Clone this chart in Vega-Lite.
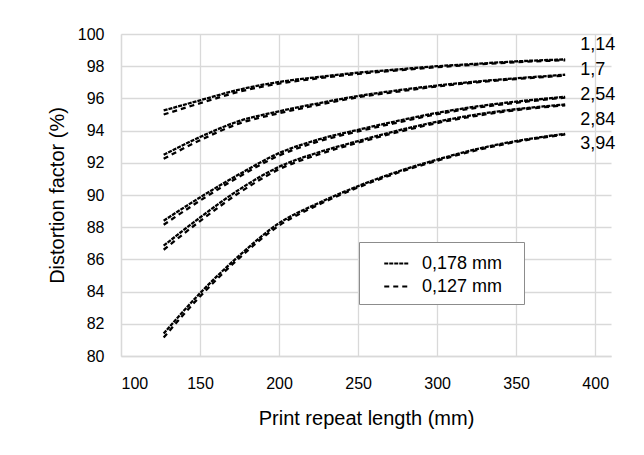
{
  "$schema": "https://vega.github.io/schema/vega-lite/v6.json",
  "autosize": {"type": "none"},
  "padding": {"left": 121, "top": 34, "right": 33, "bottom": 99},
  "width": 490,
  "height": 322,
  "background": "white",
  "config": {
    "view": {"stroke": null},
    "font": "Liberation Sans",
    "axis": {
      "gridColor": "#d9d9d9",
      "gridWidth": 1.3,
      "domainColor": "#d9d9d9",
      "domainWidth": 1.3,
      "ticks": false,
      "labelOverlap": false,
      "labelFont": "Liberation Sans",
      "labelFontSize": 16,
      "labelColor": "#000000",
      "titleFont": "Liberation Sans",
      "titleFontSize": 20,
      "titleFontWeight": "normal",
      "titleColor": "#000000"
    }
  },
  "datasets": {
    "curves": [
      {"r": "1,14", "t": "0,178 mm", "x": 127, "y": 95.25},
      {"r": "1,14", "t": "0,178 mm", "x": 150, "y": 95.88},
      {"r": "1,14", "t": "0,178 mm", "x": 175, "y": 96.55},
      {"r": "1,14", "t": "0,178 mm", "x": 200, "y": 97.02},
      {"r": "1,14", "t": "0,178 mm", "x": 225, "y": 97.33},
      {"r": "1,14", "t": "0,178 mm", "x": 250, "y": 97.6},
      {"r": "1,14", "t": "0,178 mm", "x": 275, "y": 97.8},
      {"r": "1,14", "t": "0,178 mm", "x": 300, "y": 98.0},
      {"r": "1,14", "t": "0,178 mm", "x": 325, "y": 98.15},
      {"r": "1,14", "t": "0,178 mm", "x": 350, "y": 98.3},
      {"r": "1,14", "t": "0,178 mm", "x": 381, "y": 98.42},
      {"r": "1,14", "t": "0,127 mm", "x": 127, "y": 95.0},
      {"r": "1,14", "t": "0,127 mm", "x": 150, "y": 95.7},
      {"r": "1,14", "t": "0,127 mm", "x": 175, "y": 96.42},
      {"r": "1,14", "t": "0,127 mm", "x": 200, "y": 96.92},
      {"r": "1,14", "t": "0,127 mm", "x": 225, "y": 97.25},
      {"r": "1,14", "t": "0,127 mm", "x": 250, "y": 97.52},
      {"r": "1,14", "t": "0,127 mm", "x": 275, "y": 97.74},
      {"r": "1,14", "t": "0,127 mm", "x": 300, "y": 97.94},
      {"r": "1,14", "t": "0,127 mm", "x": 325, "y": 98.1},
      {"r": "1,14", "t": "0,127 mm", "x": 350, "y": 98.25},
      {"r": "1,14", "t": "0,127 mm", "x": 381, "y": 98.37},
      {"r": "1,7", "t": "0,178 mm", "x": 127, "y": 92.5},
      {"r": "1,7", "t": "0,178 mm", "x": 150, "y": 93.6},
      {"r": "1,7", "t": "0,178 mm", "x": 175, "y": 94.6},
      {"r": "1,7", "t": "0,178 mm", "x": 200, "y": 95.2},
      {"r": "1,7", "t": "0,178 mm", "x": 225, "y": 95.7},
      {"r": "1,7", "t": "0,178 mm", "x": 250, "y": 96.15},
      {"r": "1,7", "t": "0,178 mm", "x": 275, "y": 96.5},
      {"r": "1,7", "t": "0,178 mm", "x": 300, "y": 96.8},
      {"r": "1,7", "t": "0,178 mm", "x": 325, "y": 97.05},
      {"r": "1,7", "t": "0,178 mm", "x": 350, "y": 97.25},
      {"r": "1,7", "t": "0,178 mm", "x": 381, "y": 97.47},
      {"r": "1,7", "t": "0,127 mm", "x": 127, "y": 92.25},
      {"r": "1,7", "t": "0,127 mm", "x": 150, "y": 93.4},
      {"r": "1,7", "t": "0,127 mm", "x": 175, "y": 94.45},
      {"r": "1,7", "t": "0,127 mm", "x": 200, "y": 95.08},
      {"r": "1,7", "t": "0,127 mm", "x": 225, "y": 95.6},
      {"r": "1,7", "t": "0,127 mm", "x": 250, "y": 96.07},
      {"r": "1,7", "t": "0,127 mm", "x": 275, "y": 96.42},
      {"r": "1,7", "t": "0,127 mm", "x": 300, "y": 96.74},
      {"r": "1,7", "t": "0,127 mm", "x": 325, "y": 97.0},
      {"r": "1,7", "t": "0,127 mm", "x": 350, "y": 97.2},
      {"r": "1,7", "t": "0,127 mm", "x": 381, "y": 97.42},
      {"r": "2,54", "t": "0,178 mm", "x": 127, "y": 88.4},
      {"r": "2,54", "t": "0,178 mm", "x": 150, "y": 89.85},
      {"r": "2,54", "t": "0,178 mm", "x": 175, "y": 91.3},
      {"r": "2,54", "t": "0,178 mm", "x": 200, "y": 92.6},
      {"r": "2,54", "t": "0,178 mm", "x": 225, "y": 93.45},
      {"r": "2,54", "t": "0,178 mm", "x": 250, "y": 94.05},
      {"r": "2,54", "t": "0,178 mm", "x": 275, "y": 94.6},
      {"r": "2,54", "t": "0,178 mm", "x": 300, "y": 95.1},
      {"r": "2,54", "t": "0,178 mm", "x": 325, "y": 95.5},
      {"r": "2,54", "t": "0,178 mm", "x": 350, "y": 95.8},
      {"r": "2,54", "t": "0,178 mm", "x": 381, "y": 96.1},
      {"r": "2,54", "t": "0,127 mm", "x": 127, "y": 88.15},
      {"r": "2,54", "t": "0,127 mm", "x": 150, "y": 89.65},
      {"r": "2,54", "t": "0,127 mm", "x": 175, "y": 91.15},
      {"r": "2,54", "t": "0,127 mm", "x": 200, "y": 92.45},
      {"r": "2,54", "t": "0,127 mm", "x": 225, "y": 93.33},
      {"r": "2,54", "t": "0,127 mm", "x": 250, "y": 93.95},
      {"r": "2,54", "t": "0,127 mm", "x": 275, "y": 94.5},
      {"r": "2,54", "t": "0,127 mm", "x": 300, "y": 95.02},
      {"r": "2,54", "t": "0,127 mm", "x": 325, "y": 95.42},
      {"r": "2,54", "t": "0,127 mm", "x": 350, "y": 95.73},
      {"r": "2,54", "t": "0,127 mm", "x": 381, "y": 96.05},
      {"r": "2,84", "t": "0,178 mm", "x": 127, "y": 86.85},
      {"r": "2,84", "t": "0,178 mm", "x": 150, "y": 88.6},
      {"r": "2,84", "t": "0,178 mm", "x": 175, "y": 90.35},
      {"r": "2,84", "t": "0,178 mm", "x": 200, "y": 91.75},
      {"r": "2,84", "t": "0,178 mm", "x": 225, "y": 92.65},
      {"r": "2,84", "t": "0,178 mm", "x": 250, "y": 93.35},
      {"r": "2,84", "t": "0,178 mm", "x": 275, "y": 94.0},
      {"r": "2,84", "t": "0,178 mm", "x": 300, "y": 94.55},
      {"r": "2,84", "t": "0,178 mm", "x": 325, "y": 95.0},
      {"r": "2,84", "t": "0,178 mm", "x": 350, "y": 95.33},
      {"r": "2,84", "t": "0,178 mm", "x": 381, "y": 95.62},
      {"r": "2,84", "t": "0,127 mm", "x": 127, "y": 86.6},
      {"r": "2,84", "t": "0,127 mm", "x": 150, "y": 88.38},
      {"r": "2,84", "t": "0,127 mm", "x": 175, "y": 90.15},
      {"r": "2,84", "t": "0,127 mm", "x": 200, "y": 91.6},
      {"r": "2,84", "t": "0,127 mm", "x": 225, "y": 92.52},
      {"r": "2,84", "t": "0,127 mm", "x": 250, "y": 93.25},
      {"r": "2,84", "t": "0,127 mm", "x": 275, "y": 93.9},
      {"r": "2,84", "t": "0,127 mm", "x": 300, "y": 94.47},
      {"r": "2,84", "t": "0,127 mm", "x": 325, "y": 94.92},
      {"r": "2,84", "t": "0,127 mm", "x": 350, "y": 95.27},
      {"r": "2,84", "t": "0,127 mm", "x": 381, "y": 95.57},
      {"r": "3,94", "t": "0,178 mm", "x": 127, "y": 81.4},
      {"r": "3,94", "t": "0,178 mm", "x": 150, "y": 83.9},
      {"r": "3,94", "t": "0,178 mm", "x": 175, "y": 86.25},
      {"r": "3,94", "t": "0,178 mm", "x": 200, "y": 88.25},
      {"r": "3,94", "t": "0,178 mm", "x": 225, "y": 89.5},
      {"r": "3,94", "t": "0,178 mm", "x": 250, "y": 90.55},
      {"r": "3,94", "t": "0,178 mm", "x": 275, "y": 91.45},
      {"r": "3,94", "t": "0,178 mm", "x": 300, "y": 92.2},
      {"r": "3,94", "t": "0,178 mm", "x": 325, "y": 92.85},
      {"r": "3,94", "t": "0,178 mm", "x": 350, "y": 93.35},
      {"r": "3,94", "t": "0,178 mm", "x": 381, "y": 93.8},
      {"r": "3,94", "t": "0,127 mm", "x": 127, "y": 81.15},
      {"r": "3,94", "t": "0,127 mm", "x": 150, "y": 83.7},
      {"r": "3,94", "t": "0,127 mm", "x": 175, "y": 86.1},
      {"r": "3,94", "t": "0,127 mm", "x": 200, "y": 88.1},
      {"r": "3,94", "t": "0,127 mm", "x": 225, "y": 89.4},
      {"r": "3,94", "t": "0,127 mm", "x": 250, "y": 90.47},
      {"r": "3,94", "t": "0,127 mm", "x": 275, "y": 91.38},
      {"r": "3,94", "t": "0,127 mm", "x": 300, "y": 92.13},
      {"r": "3,94", "t": "0,127 mm", "x": 325, "y": 92.78},
      {"r": "3,94", "t": "0,127 mm", "x": 350, "y": 93.3},
      {"r": "3,94", "t": "0,127 mm", "x": 381, "y": 93.76}
    ],
    "labels": [
      {"r": "1,14", "x": 390.5, "y": 99.32},
      {"r": "1,7", "x": 390.5, "y": 97.76},
      {"r": "2,54", "x": 390.5, "y": 96.21},
      {"r": "2,84", "x": 390.5, "y": 94.66},
      {"r": "3,94", "x": 390.5, "y": 93.17}
    ]
  },
  "encoding": {
    "x": {
      "field": "x", "type": "quantitative",
      "scale": {"domain": [100, 410], "nice": false, "zero": false},
      "axis": {"values": [100, 150, 200, 250, 300, 350, 400], "title": "Print repeat length (mm)", "labelPadding": 19, "titlePadding": 17}
    },
    "y": {
      "field": "y", "type": "quantitative",
      "scale": {"domain": [80, 100], "nice": false, "zero": false},
      "axis": {"values": [80, 82, 84, 86, 88, 90, 92, 94, 96, 98, 100], "title": "Distortion factor (%)", "labelPadding": 17, "titlePadding": 10}
    }
  },
  "layer": [
    {
      "data": {"name": "curves"},
      "mark": {"type": "line", "interpolate": "monotone", "strokeWidth": 2.3, "color": "#000000"},
      "encoding": {
        "strokeDash": {
          "field": "t", "type": "nominal",
          "scale": {"domain": ["0,178 mm", "0,127 mm"], "range": [[4, 1], [5, 4]]},
          "legend": {
            "title": null,
            "orient": "none",
            "legendX": 238,
            "legendY": 208,
            "direction": "vertical",
            "fillColor": "white",
            "strokeColor": "#8c8c8c",
            "padding": 8,
            "rowPadding": -1,
            "symbolType": "stroke",
            "symbolSize": 600,
            "symbolStrokeWidth": 2,
            "symbolStrokeColor": "#000000",
            "symbolOffset": 16,
            "labelOffset": 12,
            "labelExpr": "datum.label + '\u2800'",
            "labelFont": "Liberation Sans",
            "labelFontSize": 18,
            "labelColor": "#000000"
          }
        },
        "detail": {"field": "r", "type": "nominal"}
      }
    },
    {
      "data": {"name": "labels"},
      "mark": {"type": "text", "align": "left", "baseline": "middle", "fontSize": 18, "font": "Liberation Sans", "color": "#000000"},
      "encoding": {
        "text": {"field": "r", "type": "nominal"}
      }
    }
  ]
}
